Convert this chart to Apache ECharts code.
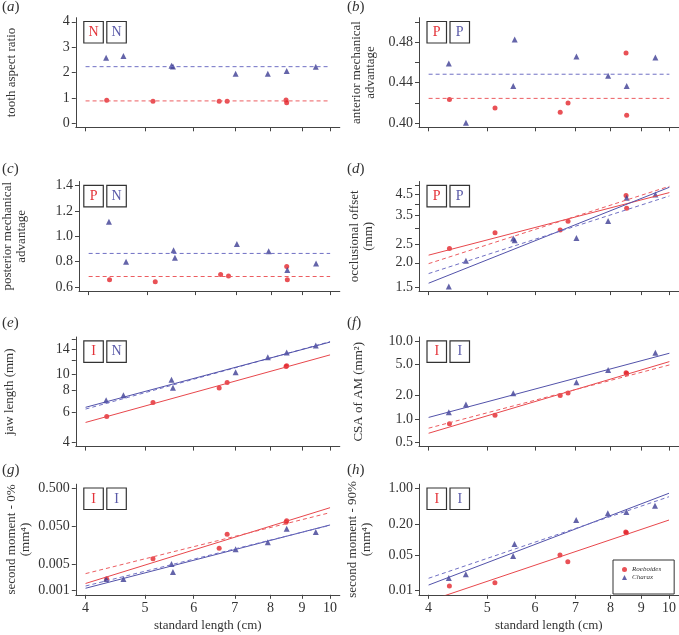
<!DOCTYPE html>
<html><head><meta charset="utf-8">
<script src="https://cdn.jsdelivr.net/npm/echarts@6/dist/echarts.min.js"></script>
<style>html,body{margin:0;padding:0;background:#fff}#c{width:679px;height:635px}</style>
</head><body><div id="c"></div>
<script>
// ---------- data ----------
const roeboidesSL = [4.33, 5.15, 6.6, 6.8, 8.48, 8.5];
const charaxSL    = [4.32, 4.61, 5.52, 5.55, 7.02, 7.92, 8.5, 9.48];
const xTicks = [4, 5, 6, 7, 8, 9, 10];
const fitX = [4, 10];

// (a) tooth aspect ratio
const toothRoe = [0.91, 0.87, 0.87, 0.87, 0.92, 0.81];
const toothCha = [2.58, 2.65, 2.27, 2.24, 1.95, 1.95, 2.06, 2.23];
const toothMeanRoe = 0.88, toothMeanCha = 2.23;
// (b) anterior mechanical advantage
const amaRoe = [0.4235, 0.415, 0.4108, 0.4199, 0.4692, 0.4078];
const amaCha = [0.4588, 0.4006, 0.4366, 0.4826, 0.4657, 0.4467, 0.4366, 0.4647];
const amaMeanRoe = 0.4245, amaMeanCha = 0.4483;
// (c) posterior mechanical advantage
const pmaRoe = [0.657, 0.642, 0.699, 0.687, 0.762, 0.657];
const pmaCha = [1.114, 0.80, 0.891, 0.831, 0.939, 0.883, 0.734, 0.786];
const pmaMeanRoe = 0.683, pmaMeanCha = 0.865;
// (d) occlusional offset (mm)
const offRoe = [2.37, 2.86, 2.95, 3.27, 4.44, 3.82];
const offCha = [1.51, 2.05, 2.67, 2.61, 2.68, 3.28, 4.33, 4.5];
const offRoeFit = [2.19, 4.6], offRoeIso = [1.98, 4.96];
const offChaFit = [1.57, 4.9], offChaIso = [1.76, 4.42];
// (e) jaw length (mm)
const jawRoe = [5.65, 6.82, 8.31, 8.93, 11.1, 11.2];
const jawCha = [7.04, 7.53, 9.26, 8.34, 10.27, 12.56, 13.37, 14.7];
const jawRoeFit = [5.22, 12.96];
const jawChaFit = [6.4, 15.4], jawChaIso = [6.25, 15.5];
// (f) CSA of AM (mm2)
const csaRoe = [0.87, 1.117, 2.01, 2.16, 3.92, 3.85];
const csaCha = [1.22, 1.54, 2.14, null, 2.97, 4.25, null, 7.07];
const csaRoeFit = [0.658, 5.45], csaRoeIso = [0.764, 4.94];
const csaChaFit = [1.05, 6.98];
// (g) second moment 0% (mm4)
const sm0Roe = [0.00203, 0.0070, 0.0131, 0.0307, 0.0635, 0.070];
const sm0Cha = [0.00203, 0.00203, 0.00505, 0.00311, 0.0123, 0.0189, 0.043, 0.0353];
const sm0RoeFit = [0.00155, 0.154], sm0RoeIso = [0.00282, 0.114];
const sm0ChaFit = [0.00116, 0.054], sm0ChaIso = [0.00133, 0.053];
// (h) second moment 90% (mm4)
const sm90Roe = [0.0124, 0.0143, 0.0498, 0.0368, 0.14, 0.135];
const sm90Cha = [0.0177, 0.0209, 0.0476, 0.0817, 0.24, 0.325, 0.344, 0.457];
const sm90RoeFit = [0.00627, 0.24];
const sm90ChaFit = [0.0129, 0.80], sm90ChaIso = [0.0175, 0.685];

// tick values / labels
const aTicks = [0, 1, 2, 3, 4], aLabels = ['0', '1', '2', '3', '4'];
const bTicks = [0.40, 0.42, 0.44, 0.46, 0.48, 0.50], bLabelVals = [0.40, 0.44, 0.48], bLabels = ['0.40', '0.44', '0.48'];
const cTicks = [0.6, 0.8, 1.0, 1.2, 1.4], cLabels = ['0.6', '0.8', '1.0', '1.2', '1.4'];
const dTicks = [1.5, 2, 2.5, 3, 3.5, 4, 4.5, 5], dLabelVals = [1.5, 2, 2.5, 3.5, 4.5], dLabels = ['1.5', '2.0', '2.5', '3.5', '4.5'];
const eTicks = [4, 6, 8, 10, 12, 14, 16], eLabelVals = [4, 6, 8, 10, 14], eLabels = ['4', '6', '8', '10', '14'];
const fTicks = [0.5, 1, 2, 5, 10], fLabels = ['0.5', '1.0', '2.0', '5.0', '10.0'];
const gTicks = [0.001, 0.005, 0.05, 0.5], gLabels = ['0.001', '0.005', '0.050', '0.500'];
const hTicks = [0.01, 0.05, 0.2, 1], hLabels = ['0.01', '0.05', '0.20', '1.00'];

// ---------- styling / layout ----------
const FONT = '"Liberation Serif", "Times New Roman", serif';
const TXT = '#333';
const AX = '#444';
const RED = '#e3262c', BLUE = '#3d3d94';
const RED_L = '#e8474c', RED_D = '#ec5d61', BLUE_L = '#5252aa', BLUE_D = '#7070c4';
const colLeft = [75.8, 419];
const gridW = 264;
const rowTop = [17.7, 181.5, 337, 484.2];
const rowH = [109.6, 109.6, 109.6, 110.6];
const tagY = [8, 170, 324, 471];
const tagX = [2, 347];
const L = Math.log10;
const xMin = L(4) - 0.0159, xMax = 1 + 0.0159;

const panels = [
  {tag:'a', col:0, row:0, log:false, min:-0.16, max:4.16, ticks:aTicks, labelVals:aTicks, labels:aLabels,
   title:'tooth aspect ratio', gap:57, codes:['N','N'], roe:toothRoe, cha:toothCha,
   lines:[{y:[toothMeanCha, toothMeanCha], c:BLUE_D, d:true}, {y:[toothMeanRoe, toothMeanRoe], c:RED_D, d:true}]},
  {tag:'b', col:1, row:0, log:false, min:0.396, max:0.504, ticks:bTicks, labelVals:bLabelVals, labels:bLabels,
   title:'anterior mechanical\nadvantage', gap:41, codes:['P','P'], roe:amaRoe, cha:amaCha,
   lines:[{y:[amaMeanCha, amaMeanCha], c:BLUE_D, d:true}, {y:[amaMeanRoe, amaMeanRoe], c:RED_D, d:true}]},
  {tag:'c', col:0, row:1, log:false, min:0.568, max:1.432, ticks:cTicks, labelVals:cTicks, labels:cLabels,
   title:'posterior mechanical\nadvantage', gap:50, codes:['P','N'], roe:pmaRoe, cha:pmaCha,
   lines:[{y:[pmaMeanCha, pmaMeanCha], c:BLUE_D, d:true}, {y:[pmaMeanRoe, pmaMeanRoe], c:RED_D, d:true}]},
  {tag:'d', col:1, row:1, log:true, min:0.15518, max:0.71989, ticks:dTicks, labelVals:dLabelVals, labels:dLabels,
   title:'occlusional offset\n(mm)', gap:43, codes:['P','P'], roe:offRoe, cha:offCha,
   lines:[{y:offRoeFit, c:RED_L}, {y:offRoeIso, c:RED_D, d:true}, {y:offChaFit, c:BLUE_L}, {y:offChaIso, c:BLUE_D, d:true}]},
  {tag:'e', col:0, row:2, log:true, min:0.5764, max:1.2173, ticks:eTicks, labelVals:eLabelVals, labels:eLabels,
   title:'jaw length (mm)', gap:59, codes:['I','N'], roe:jawRoe, cha:jawCha,
   lines:[{y:jawRoeFit, c:RED_L}, {y:jawChaIso, c:BLUE_D, d:true}, {y:jawChaFit, c:BLUE_L}]},
  {tag:'f', col:1, row:2, log:true, min:-0.35307, max:1.05204, ticks:fTicks, labelVals:fTicks, labels:fLabels,
   title:'CSA of AM (mm\u00b2)', gap:53, codes:['I','I'], roe:csaRoe, cha:csaCha,
   lines:[{y:csaRoeFit, c:RED_L}, {y:csaRoeIso, c:RED_D, d:true}, {y:csaChaFit, c:BLUE_L}]},
  {tag:'g', col:0, row:3, log:true, min:-3.10796, max:-0.19307, ticks:gTicks, labelVals:gTicks, labels:gLabels,
   title:'second moment - 0%\n(mm\u2074)', gap:43, codes:['I','I'], roe:sm0Roe, cha:sm0Cha,
   lines:[{y:sm0RoeFit, c:RED_L}, {y:sm0RoeIso, c:RED_D, d:true}, {y:sm0ChaFit, c:BLUE_L}, {y:sm0ChaIso, c:BLUE_D, d:true}]},
  {tag:'h', col:1, row:3, log:true, min:-2.08, max:0.08, ticks:hTicks, labelVals:hTicks, labels:hLabels,
   title:'second moment - 90%\n(mm\u2074)', gap:45, codes:['I','I'], roe:sm90Roe, cha:sm90Cha,
   lines:[{y:sm90RoeFit, c:RED_L}, {y:sm90ChaFit, c:BLUE_L}, {y:sm90ChaIso, c:BLUE_D, d:true}]}
];

const grids = [], xAxes = [], yAxes = [], series = [], graphics = [];
panels.forEach((p, i) => {
  const T = v => p.log ? L(v) : v;
  const left = colLeft[p.col], top = rowTop[p.row], h = rowH[p.row];
  const bottomRow = p.row === 3;
  grids.push({left: left, top: top, width: gridW, height: h, containLabel: false});
  xAxes.push({
    type: 'value', gridIndex: i, min: xMin, max: xMax,
    axisLine: {show: true, onZero: false, lineStyle: {color: AX, width: 1}},
    axisTick: {show: true, length: 4, customValues: xTicks.map(L), lineStyle: {color: AX, width: 1}},
    axisLabel: {show: bottomRow, customValues: xTicks.map(L), margin: 7,
      formatter: v => String(Math.round(Math.pow(10, v))),
      fontFamily: FONT, fontSize: 14, color: TXT},
    splitLine: {show: false},
    name: bottomRow ? 'standard length (cm)' : '', nameLocation: 'middle', nameGap: 24,
    nameTextStyle: {fontFamily: FONT, fontSize: 13, color: TXT}
  });
  const lv = p.labelVals.map(T);
  yAxes.push({
    type: 'value', gridIndex: i, min: p.min, max: p.max,
    axisLine: {show: true, onZero: false, lineStyle: {color: AX, width: 1}},
    axisTick: {show: true, length: 4, customValues: p.ticks.map(T), lineStyle: {color: AX, width: 1}},
    axisLabel: {show: true, customValues: lv, margin: 6,
      formatter: v => { for (let k = 0; k < lv.length; k++) if (Math.abs(lv[k] - v) < 1e-6) return p.labels[k]; return ''; },
      fontFamily: FONT, fontSize: 14, color: TXT},
    splitLine: {show: false},
    name: p.title, nameLocation: 'middle', nameGap: p.gap,
    nameTextStyle: {fontFamily: FONT, fontSize: 13, color: TXT, lineHeight: 14}
  });
  p.lines.forEach((ln, k) => {
    series.push({
      type: 'line', name: 'line' + i + '_' + k, xAxisIndex: i, yAxisIndex: i,
      data: fitX.map((x, j) => [L(x), T(ln.y[j])]),
      symbol: 'none', clip: true, silent: true,
      lineStyle: {color: ln.c, width: 1, type: ln.d ? [4, 3] : 'solid'}
    });
  });
  series.push({
    type: 'scatter', name: 'Roeboides', xAxisIndex: i, yAxisIndex: i,
    data: roeboidesSL.map((x, j) => p.roe[j] == null ? null : [L(x), T(p.roe[j])]).filter(d => d),
    symbol: 'circle', symbolSize: 5, itemStyle: {color: RED}, silent: true
  });
  series.push({
    type: 'scatter', name: 'Charax', xAxisIndex: i, yAxisIndex: i,
    data: charaxSL.map((x, j) => p.cha[j] == null ? null : [L(x), T(p.cha[j])]).filter(d => d),
    symbol: 'triangle', symbolSize: 6, itemStyle: {color: BLUE}, silent: true
  });
  // panel tag
  graphics.push({type: 'text', left: tagX[p.col], top: tagY[p.row] - 8,
    style: {text: '{p|(}{i|' + p.tag + '}{p|)}', font: '15px ' + FONT, fill: TXT,
      rich: {p: {fontFamily: FONT, fontSize: 15, fill: TXT}, i: {fontFamily: FONT, fontSize: 15, fontStyle: 'italic', fill: TXT}}}});
  // code boxes
  const bx = left + 8, by = top + 3.8;
  p.codes.forEach((c, k) => {
    const x0 = bx + k * 23;
    graphics.push({type: 'rect', shape: {x: x0, y: by, width: 19.5, height: 21.5},
      style: {fill: 'none', stroke: '#333', lineWidth: 1.2}});
    graphics.push({type: 'text', x: x0 + 9.75, y: by + 11,
      style: {text: c, fontFamily: FONT, fontSize: 14, fill: k === 0 ? '#e3343a' : '#5a5aa8', align: 'center', verticalAlign: 'middle'}});
  });
});

const chart = echarts.init(document.getElementById('c'), null, {renderer: 'canvas'});
chart.setOption({
  animation: false,
  backgroundColor: '#fff',
  grid: grids, xAxis: xAxes, yAxis: yAxes, series: series,
  legend: {
    left: 613, top: 560, orient: 'vertical', itemGap: 1, itemWidth: 5, itemHeight: 5,
    padding: [6, 13, 13, 9], borderColor: '#333', borderWidth: 1, backgroundColor: '#fff',
    data: [{name: 'Roeboides', icon: 'circle'}, {name: 'Charax', icon: 'triangle'}],
    textStyle: {fontFamily: FONT, fontStyle: 'italic', fontSize: 7, color: TXT}
  },
  graphic: graphics
});
</script></body></html>
